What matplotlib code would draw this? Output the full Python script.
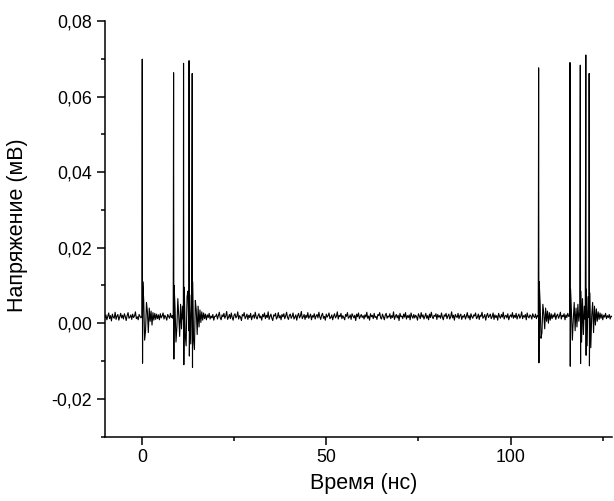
import numpy as np
import matplotlib
matplotlib.use("Agg")
import matplotlib.pyplot as plt
from matplotlib.ticker import MultipleLocator, FuncFormatter

plt.rcParams['font.family'] = ['Liberation Sans', 'DejaVu Sans']

# Sampling step of the trace (ns); values are in units of 1e-4 mV
t_step = 0.25
v_unit = 1e-4

seg_a_t0 = -10.0
seg_a = [15, 22, 9, 18, 27, 12, 20, 6, 24, 16, 13, 29, 10, 19, 23, 8, 17, 26, 14, 21,
         11, 25, 18, 7, 20, 28, 13, 16, 22, 10, 24, 15, 19, 30, 12, 17, 9, 23, 18, 14]
seg_b_t0 = 0.0
seg_b = [18, 110, 60, -45, -20, 55, 30, -25, 40, 5, 32, -5, 28, 8, 26, 10, 24, 12, 22, 9,
         25, 14, 19, 27, 11, 21, 16, 8, 23, 18, 13, 26, 15, 20, 12]
seg_c_t0 = 8.75
seg_c = [100, 40, -50, -10, 65, 20, -35, 50, -15, 45, 10, 95, -30, -60, 70, 85, -20, 75, -55, 60,
         110, -40, -70, 60, 35, -30, 45, -10, 35, 2, 30, 8, 27, 12, 24, 9, 22, 15, 26, 11,
         19, 14, 23, 8, 18]
seg_d_t0 = 20.0
seg_d = [18, 24, 11, 20, 29, 14, 9, 22, 17, 26, 13, 19, 31, 10, 16, 23, 12, 27, 15, 8, 21, 25, 14, 18, 30, 11, 20,
         16, 7, 23, 19, 28, 12, 17, 24, 10, 21, 15, 26, 9, 18, 22, 13, 29, 16, 11, 20, 25, 14, 19, 8, 23, 17, 27,
         12, 21, 15, 30, 10, 18, 24, 13, 7, 22, 19, 26, 11, 16, 28, 14, 20, 9, 23, 17, 25, 12, 19, 29, 15, 10, 21,
         24, 13, 18, 27, 11, 16, 22, 8, 20, 26, 14, 19, 31, 12, 17, 23, 10, 21, 15, 28, 13, 18, 24, 9, 20, 16, 25,
         11, 19, 23, 14, 29, 17, 10, 21, 26, 13, 18, 8, 24, 16, 20, 27, 12, 15, 22, 9, 19, 25, 14, 18, 30, 11, 21,
         17, 26, 12, 20, 15, 9, 23, 18, 28, 13, 16, 22, 10, 25, 19, 14, 21, 7, 24, 17, 27, 12, 18, 23, 15, 20, 11,
         22, 16, 29, 13, 19, 8, 25, 17, 21, 12, 26, 15, 18, 10, 23, 20, 28, 14, 11, 24, 17, 9, 21, 26, 13, 19, 16,
         25, 12, 20, 15, 30, 10, 18, 23, 14, 21, 7, 26, 17, 19, 12, 24, 16, 28, 11, 20, 15, 22, 9, 27, 18, 13, 23,
         14, 21, 17, 8, 25, 19, 12, 28, 16, 22, 11, 18, 26, 13, 20, 9, 24, 15, 29, 17, 12, 21, 18, 25, 10, 23, 16,
         20, 13, 27, 16, 9, 22, 18, 26, 12, 19, 24, 11, 17, 30, 14, 21, 8, 23, 18, 15, 26, 12, 20, 24, 10, 19, 16,
         23, 11, 18, 28, 14, 20, 9, 25, 17, 13, 22, 19, 27, 12, 16, 24, 10, 21, 18, 29, 13, 17, 23, 8, 20, 26, 15,
         19, 24, 12, 17, 27, 10, 22, 15, 20, 8, 26, 18, 13, 23, 16, 29, 11, 19, 21, 14, 25, 9, 18, 22, 16, 28, 13,
         21, 15, 26, 11, 19, 24, 13, 18, 30, 12, 20, 16, 23, 9, 27, 17, 14, 22, 19, 11, 25, 18, 15, 24, 12, 20, 17]
seg_e_t0 = 107.75
seg_e = [110, 55, -40, -25, 50, 25, -15, 40, 5, 32, 0, 28, 8, 25, 12, 22, 16, 27, 10, 20,
         24, 13, 19, 29, 11, 21, 17, 25, 9, 22, 15, 26, 18]
seg_f_t0 = 116.0
seg_f = [20, 90, 30, -45, 10, 55, -20, 40, -10, 50, 5, 30, 85, -50, 65, -30, 45, 10, 90, -60,
         70, 15, 80, -65, 20, 55, -25, 45, -5, 38, 5, 30, 10, 27, 13, 24, 9, 21, 16, 26,
         12, 20, 15, 23, 11, 19, 17]

# Spikes: time (ns), peak and trough (mV)
spike_t = [0.1, 8.6, 11.3, 12.8, 13.65, 107.6, 116.1, 118.9, 120.4, 121.3]
spike_peak = [0.0699, 0.0663, 0.0688, 0.0695, 0.0661, 0.0676, 0.0690, 0.0683, 0.0710, 0.0661]
spike_trough = [-0.0106, -0.0095, -0.0110, -0.0087, -0.0117, -0.0105, -0.0114, -0.0107, -0.0085, -0.0113]
spike_width = 0.08

xticks = [0, 50, 100]
yticks = [-0.02, 0.00, 0.02, 0.04, 0.06, 0.08]

# Assemble trace
ts, vs = [], []
for t0, seg in [(seg_a_t0, seg_a), (seg_b_t0, seg_b), (seg_c_t0, seg_c),
                (seg_d_t0, seg_d), (seg_e_t0, seg_e), (seg_f_t0, seg_f)]:
    for k, v in enumerate(seg):
        ts.append(t0 + k * t_step)
        vs.append(v * v_unit)
for t, p, tr in zip(spike_t, spike_peak, spike_trough):
    ts.append(t); vs.append(p)
    ts.append(t + spike_width); vs.append(tr)
order = np.argsort(np.array(ts), kind='stable')
ts = np.array(ts)[order]
vs = np.array(vs)[order]

fig = plt.figure(figsize=(6.14, 5.01), dpi=100)
ax = fig.add_axes([105/614, (501-436.5)/501, 507/614, (436.5-21)/501])
ax.plot(ts, vs, color='black', lw=0.8)

ax.set_xlim(-10, 127.5)
ax.set_ylim(-0.03, 0.08)
ax.set_xticks(xticks)
ax.set_yticks(yticks)
ax.xaxis.set_minor_locator(MultipleLocator(25))
ax.yaxis.set_minor_locator(MultipleLocator(0.01))
ax.yaxis.set_major_formatter(FuncFormatter(lambda v, p: f"{v:.2f}".replace('.', ',').replace('-0,00', '0,00')))

for s in ['top', 'right']:
    ax.spines[s].set_visible(False)
for s in ['left', 'bottom']:
    ax.spines[s].set_linewidth(1.1)
ax.tick_params(which='major', direction='out', length=5.8, width=1.1, labelsize=12.8, colors='black')
ax.tick_params(which='minor', direction='out', length=3, width=1.1)

ax.set_xlabel('Время (нс)', fontsize=15.5, va='center')
ax.set_ylabel('Напряжение (мВ)', fontsize=15.5, va='center')
ax.xaxis.set_label_coords(0.511, -0.112)
ax.yaxis.set_label_coords(-0.1716, 0.509)

fig.savefig('out.png', dpi=100)
